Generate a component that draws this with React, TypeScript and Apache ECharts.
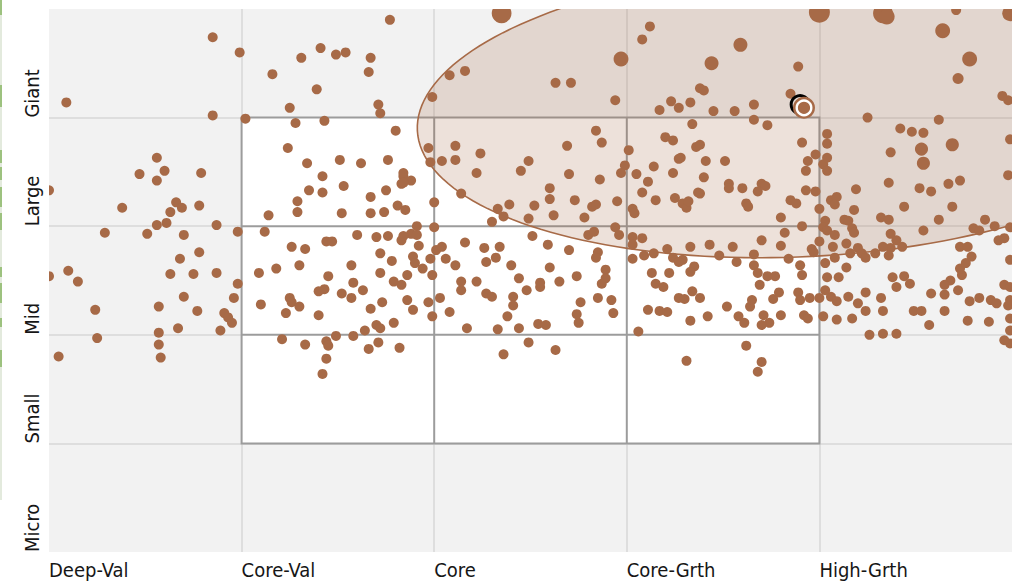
import React, { useEffect, useRef } from "react";
import * as echarts from "echarts";

// ---- axes (Morningstar style / size scores) ----
const styleLabels = ["Deep-Val", "Core-Val", "Core", "Core-Grth", "High-Grth"];
const sizeLabels = ["Micro", "Small", "Mid", "Large", "Giant"];
const scoreMin = -100;
const scoreMax = 400;
const scoreStep = 100;

// ---- 3x3 style box ----
const boxStyleRange = [0, 300];
const boxSizeRange = [0, 300];
const boxDividers = [100, 200];

// ---- ownership zone ellipse: centre [style, size], radii [style units, size units], tilt in degrees ----
const zoneCenter = [292, 306];
const zoneRadii = [201, 134];
const zoneTiltDeg = 2.9;

// ---- fund centroid & benchmark centroid ----
const fundCentroid = [292, 309];
const benchmarkCentroid = [290, 312];

// ---- holdings: [style score, size score] ----
const deepValHoldings = [
  [-15, 374], [-1, 360], [-91, 314], [-15, 302], [-44, 263], [-53, 248], [-40, 251], [-44, 242], [-21, 249],
  [-100, 233], [-62, 217], [-34, 222], [-31, 217], [-37, 213], [-22, 219], [-71, 194], [-49, 193], [-44, 201],
  [-39, 203], [-30, 192], [-13, 201], [-2, 195], [-32, 170], [-22, 176], [-100, 154], [-90, 159], [-85, 149],
  [-37, 156], [-25, 156], [-13, 157], [-2, 147], [-30, 135], [-4, 134], [-76, 123], [-43, 126], [-23, 122],
  [-9, 120], [-7, 116], [-5, 111], [-33, 106], [-43, 102], [-11, 104], [-75, 97], [-43, 91], [-95, 80], [-42, 79],
];

const coreValHoldings = [
  [2, 299], [16, 340], [31, 355], [41, 364], [49, 358], [54, 360], [67, 355], [66, 342], [77, 390], [39, 326],
  [25, 309], [71, 312], [72, 304], [28, 295], [43, 297],
  [24, 272], [34, 258], [42, 246], [51, 261], [62, 258], [76, 261], [80, 288], [84, 246], [83, 239], [14, 210],
  [29, 223], [29, 213], [35, 233], [42, 231], [53, 237], [52, 212], [67, 227], [67, 212], [74, 213], [75, 233],
  [88, 242], [81, 219], [85, 215], [84, 249], [84, 240],
  [12, 195], [44, 186], [47, 186], [60, 192], [70, 190], [76, 191], [83, 187], [88, 193], [26, 181], [33, 179],
  [72, 175], [78, 168], [92, 182], [94, 161], [30, 164], [18, 161], [9, 157], [57, 164], [45, 154], [72, 157],
  [79, 149], [86, 155], [58, 148], [52, 138], [43, 142], [40, 140], [25, 134], [26, 130], [10, 128], [40, 118],
  [57, 134], [63, 141], [73, 130], [83, 146], [86, 132], [89, 123], [97, 130], [67, 124], [70, 109], [64, 104],
  [72, 106], [79, 111], [58, 99], [49, 99], [23, 120], [30, 126], [91, 200], [84, 191], [91, 192], [89, 172], [90, 166],
  [33, 91], [44, 94], [45, 90], [66, 87], [71, 93], [82, 88], [21, 96], [44, 78], [42, 64],
];

const coreHoldings = [
  [108, 339], [116, 343], [99, 319], [163, 332], [171, 332], [194, 316], [208, 372], [212, 384],
  [97, 272], [111, 274], [98, 259], [104, 260], [111, 261], [124, 267], [122, 249], [145, 251], [149, 260],
  [169, 274], [170, 248], [184, 288], [187, 277], [186, 243], [114, 230], [100, 222], [133, 216], [139, 220],
  [136, 209], [152, 219], [149, 207], [160, 235], [160, 225], [173, 224], [162, 210], [178, 208], [182, 218],
  [184, 220], [195, 223], [130, 204], [199, 256], [197, 249],
  [100, 199], [116, 185], [126, 180], [134, 181], [132, 171], [140, 164], [151, 191], [159, 183], [170, 178],
  [180, 192], [183, 195], [194, 199], [196, 192], [185, 176], [184, 171], [189, 160], [101, 178], [104, 181],
  [106, 170], [98, 170], [160, 162], [99, 155], [103, 134], [99, 117], [108, 121], [114, 141], [127, 138],
  [130, 135], [141, 135], [148, 141], [155, 144], [141, 127], [144, 106], [133, 105], [117, 106], [138, 117],
  [154, 110], [158, 109], [175, 111], [174, 119], [176, 130], [185, 134], [192, 132], [193, 120], [189, 152],
  [187, 147], [174, 154], [165, 149], [155, 148], [144, 152], [122, 149], [127, 167], [111, 164], [114, 149],
  [136, 82], [149, 93], [163, 86],
];

const coreGrowthHoldings = [
  [217, 307], [223, 315], [227, 309], [233, 314], [238, 327], [240, 325], [289, 347], [285, 322], [245, 306],
  [256, 306], [266, 312], [266, 298],
  [273, 293], [234, 294], [201, 270], [220, 282], [224, 279], [236, 273], [238, 275], [227, 262], [228, 263],
  [241, 260], [251, 260], [224, 249], [214, 255], [211, 241], [205, 248], [240, 245], [253, 239], [253, 235],
  [260, 235], [270, 239], [272, 237], [268, 232], [238, 230], [291, 277], [293, 251], [294, 260], [293, 233],
  [215, 224], [208, 231], [203, 216], [204, 212], [225, 226], [229, 221], [231, 217], [232, 223], [237, 231],
  [262, 221], [263, 218], [285, 224], [288, 221], [280, 208],
  [203, 190], [203, 183], [208, 189], [214, 175], [221, 179], [224, 171], [229, 169], [233, 181], [235, 163],
  [203, 170], [209, 173], [213, 157], [222, 157], [227, 167], [233, 158], [215, 147], [219, 144], [227, 134],
  [230, 133], [234, 140], [238, 134], [211, 123], [217, 122], [221, 121], [233, 113], [242, 117], [252, 126],
  [258, 117], [264, 126], [265, 132], [269, 146], [276, 133], [279, 139], [266, 164], [268, 157], [273, 154],
  [277, 154], [284, 170], [290, 164], [291, 155], [289, 139], [295, 134], [290, 132], [292, 118], [294, 115],
  [280, 118], [274, 111], [271, 118], [270, 109], [261, 111], [255, 181], [243, 183], [248, 173], [257, 167],
  [266, 174], [270, 187], [282, 194], [280, 182], [296, 179], [297, 176], [291, 200],
  [262, 90], [270, 75], [268, 66], [231, 76], [206, 103],
];

const highGrowthHoldings = [
  [371, 399], [325, 300], [342, 290], [348, 287], [354, 286], [362, 298], [398, 316],
  [304, 285], [304, 276], [337, 268], [399, 280], [298, 266], [302, 257], [304, 251], [304, 263], [298, 232],
  [319, 234], [336, 240], [352, 235], [358, 232], [367, 239], [373, 242], [398, 247], [300, 216], [306, 224],
  [309, 227], [308, 220], [318, 215], [344, 218], [369, 218], [362, 206], [332, 208], [336, 206], [313, 206],
  [315, 205], [303, 205],
  [302, 199], [304, 196], [300, 186], [308, 192], [307, 181], [317, 198], [318, 194], [314, 184], [320, 180],
  [322, 175], [337, 193], [340, 187], [343, 181], [337, 180], [333, 181], [354, 196], [373, 181], [377, 181],
  [380, 198], [383, 196], [386, 206], [391, 200], [396, 189], [399, 199], [393, 187],
  [303, 166], [304, 153], [310, 153], [308, 171], [314, 162], [316, 175], [324, 171], [329, 175], [336, 173],
  [338, 153], [344, 154], [347, 147], [340, 144], [332, 134], [324, 139], [315, 135], [320, 129], [324, 122],
  [317, 115], [309, 114], [306, 135], [303, 141], [300, 134], [309, 131], [302, 117], [333, 122], [340, 101],
  [349, 122], [353, 122], [358, 138], [365, 137], [368, 150], [374, 155], [373, 161], [376, 166], [379, 172],
  [365, 146], [372, 141], [378, 131], [383, 134], [389, 132], [392, 129], [396, 146], [399, 144], [398, 127],
  [399, 104], [399, 92], [396, 95], [388, 112], [377, 113], [365, 122], [357, 109], [326, 100], [333, 101],
  [399, 169], [399, 132], [399, 115],
];

// large positions: [style score, size score, relative weight]
const largeHoldings = [
  [135, 396, 8], [300, 397, 9], [333, 396, 8], [335, 393, 5], [399, 396, 5], [364, 380, 4.5], [378, 354, 4.5],
  [197, 354, 4.5], [259, 367, 4], [244, 350, 4], [353, 271, 3.5], [369, 275, 3.5], [354, 258, 3.5],
  [372, 336, 2.5], [395, 320, 2],
];

const DOT = "#a76a47";
const FONT = "'Liberation Sans Narrow', 'DejaVu Sans Condensed', sans-serif";
const GRID_LINE = "#d7d7d7";
const BOX_LINE = "#9c9c9c";

// decorative green strip at the very left edge of the picture (pixel runs)
const greenRuns = [
  [0, 15], [85, 107], [150, 163], [167, 180], [187, 207], [213, 230], [267, 277], [283, 303], [318, 327], [350, 367],
];

export default function App() {
  const ref = useRef<HTMLDivElement | null>(null);

  useEffect(() => {
    if (!ref.current) return;
    const chart = echarts.init(ref.current, null, { renderer: "svg" });

    const holdings = [
      ...deepValHoldings,
      ...coreValHoldings,
      ...coreHoldings,
      ...coreGrowthHoldings,
      ...highGrowthHoldings,
    ].map((p) => [p[0], p[1], 1]);
    const allHoldings = [...holdings, ...largeHoldings];

    const labelBase = { color: "#161616", fontSize: 20, fontFamily: FONT };

    const option: any = {
      animation: false,
      backgroundColor: "#ffffff",
      grid: {
        left: 49,
        right: 7,
        top: 9,
        bottom: 35,
        containLabel: false,
        outerBoundsMode: "none",
        show: true,
        backgroundColor: "#f2f2f2",
        borderWidth: 0,
      },
      xAxis: {
        type: "value",
        min: scoreMin,
        max: scoreMax,
        interval: scoreStep,
        axisLine: { show: false },
        axisTick: { show: false },
        splitLine: { show: true, showMinLine: false, showMaxLine: false, lineStyle: { color: GRID_LINE, width: 1.5 } },
        axisLabel: {
          ...labelBase,
          align: "left",
          verticalAlign: "top",
          margin: 8,
          formatter: (v: number) => styleLabels[Math.round((v - scoreMin) / scoreStep)] ?? "",
        },
      },
      yAxis: {
        type: "value",
        min: scoreMin,
        max: scoreMax,
        interval: scoreStep,
        axisLine: { show: false },
        axisTick: { show: false },
        splitLine: { show: true, showMinLine: false, showMaxLine: false, lineStyle: { color: GRID_LINE, width: 1.5 } },
        axisLabel: {
          ...labelBase,
          rotate: 90,
          align: "left",
          verticalAlign: "middle",
          margin: 17,
          formatter: (v: number) => sizeLabels[Math.round((v - scoreMin) / scoreStep)] ?? "",
        },
      },
      graphic: [
        {
          type: "rect",
          silent: true,
          x: 0,
          y: 0,
          shape: { x: 0, y: 0, width: 2, height: 500 },
          style: { fill: "#e3eadd" },
        },
        ...greenRuns.map((r) => ({
          type: "rect",
          silent: true,
          x: 0,
          y: r[0],
          shape: { x: 0, y: 0, width: 2, height: r[1] - r[0] },
          style: { fill: "#9dc27f" },
        })),
      ],
      series: [
        {
          type: "custom",
          name: "Style box",
          z: 1,
          silent: true,
          clip: true,
          data: [[boxStyleRange[0], boxSizeRange[0]]],
          renderItem: (_p: any, api: any) => {
            const tl = api.coord([boxStyleRange[0], boxSizeRange[1]]);
            const br = api.coord([boxStyleRange[1], boxSizeRange[0]]);
            const children: any[] = [
              {
                type: "rect",
                shape: { x: tl[0], y: tl[1], width: br[0] - tl[0], height: br[1] - tl[1] },
                style: { fill: "#ffffff", stroke: BOX_LINE, lineWidth: 2 },
              },
            ];
            boxDividers.forEach((d) => {
              const a = api.coord([d, boxSizeRange[0]]);
              const b = api.coord([d, boxSizeRange[1]]);
              children.push({
                type: "line",
                shape: { x1: a[0], y1: a[1], x2: b[0], y2: b[1] },
                style: { stroke: BOX_LINE, lineWidth: 2 },
              });
              const c = api.coord([boxStyleRange[0], d]);
              const e = api.coord([boxStyleRange[1], d]);
              children.push({
                type: "line",
                shape: { x1: c[0], y1: c[1], x2: e[0], y2: e[1] },
                style: { stroke: BOX_LINE, lineWidth: 2 },
              });
            });
            return { type: "group", children };
          },
        },
        {
          type: "custom",
          name: "Ownership zone",
          z: 2,
          silent: true,
          clip: true,
          data: [zoneCenter],
          renderItem: (_p: any, api: any) => {
            const c = api.coord([api.value(0), api.value(1)]);
            const unit = api.size([1, 1]);
            const a = zoneRadii[0] * unit[0];
            const b = zoneRadii[1] * unit[1];
            const phi = (zoneTiltDeg * Math.PI) / 180;
            const pts: number[][] = [];
            for (let i = 0; i < 180; i++) {
              const t = (i / 180) * Math.PI * 2;
              const ct = Math.cos(t);
              const st = Math.sin(t);
              pts.push([
                c[0] + a * ct * Math.cos(phi) + b * st * Math.sin(phi),
                c[1] - a * ct * Math.sin(phi) + b * st * Math.cos(phi),
              ]);
            }
            return {
              type: "polygon",
              shape: { points: pts },
              style: { fill: "rgba(167,106,71,0.2)", stroke: DOT, lineWidth: 1.6 },
            };
          },
        },
        {
          type: "custom",
          name: "Holdings",
          z: 3,
          silent: true,
          clip: true,
          data: allHoldings,
          renderItem: (_p: any, api: any) => {
            const pt = api.coord([api.value(0), api.value(1)]);
            const r = Math.max(5, Math.sqrt(api.value(2)) * 3.5);
            return { type: "circle", shape: { cx: pt[0], cy: pt[1], r }, style: { fill: DOT } };
          },
        },
        {
          type: "custom",
          name: "Centroids",
          z: 4,
          silent: true,
          clip: false,
          data: [[benchmarkCentroid[0], benchmarkCentroid[1], fundCentroid[0], fundCentroid[1]]],
          renderItem: (_p: any, api: any) => {
            const bm = api.coord([api.value(0), api.value(1)]);
            const fd = api.coord([api.value(2), api.value(3)]);
            return {
              type: "group",
              children: [
                { type: "circle", shape: { cx: bm[0], cy: bm[1], r: 9 }, style: { fill: "none", stroke: "#000", lineWidth: 3 } },
                { type: "circle", shape: { cx: fd[0], cy: fd[1], r: 11 }, style: { fill: DOT } },
                { type: "circle", shape: { cx: fd[0], cy: fd[1], r: 7.3 }, style: { fill: "none", stroke: "#fff", lineWidth: 2.4 } },
              ],
            };
          },
        },
      ],
    };

    chart.setOption(option);
    return () => chart.dispose();
  }, []);

  return (
    <div
      ref={ref}
      style={{ position: "fixed", left: 0, top: 0, width: 1019, height: 587, background: "#fff" }}
    />
  );
}
